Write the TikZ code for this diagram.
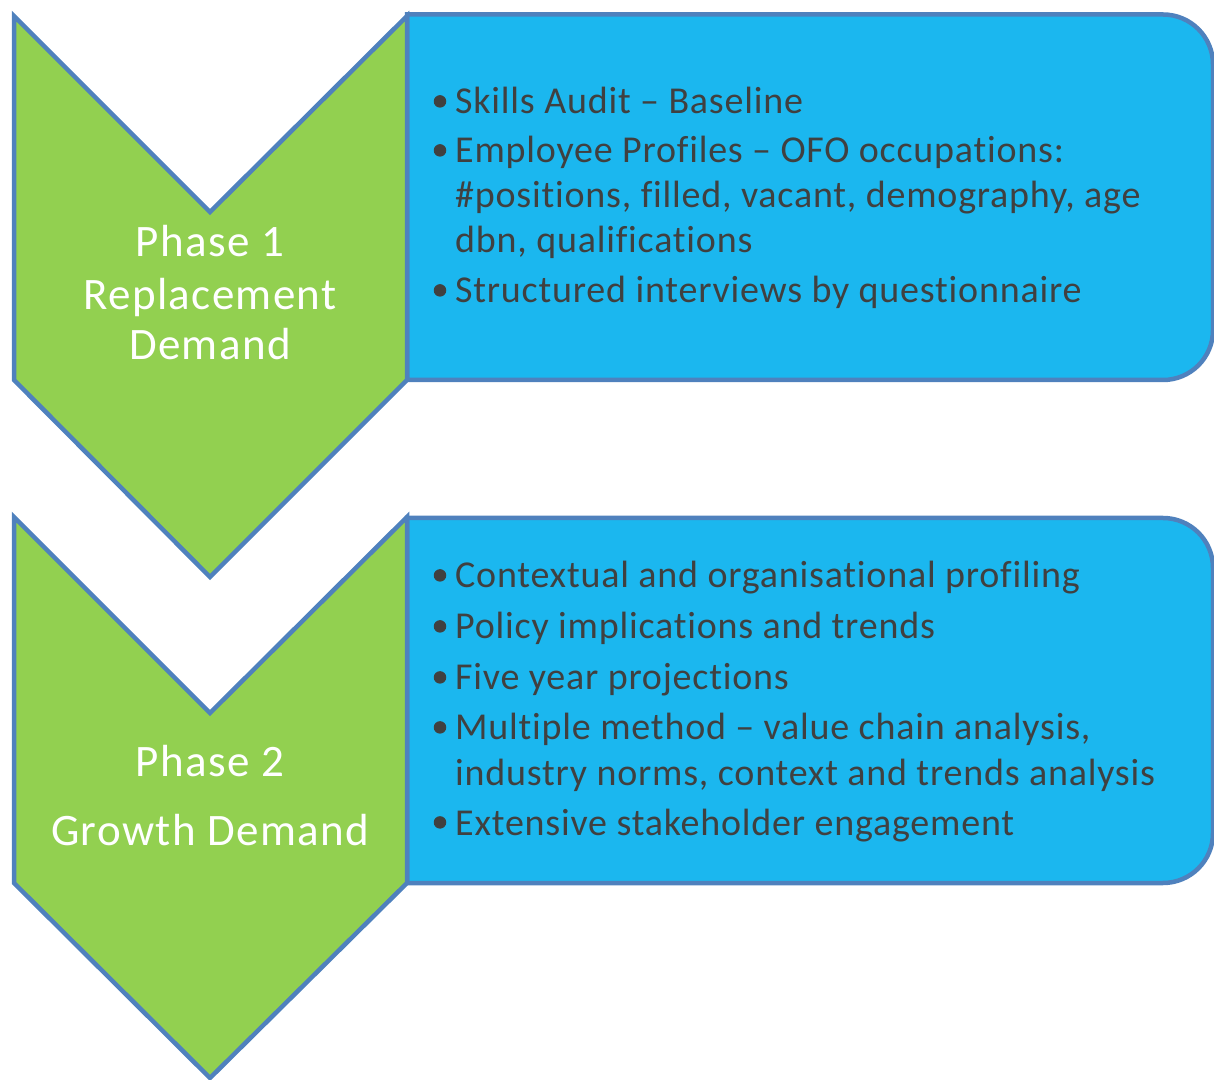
\documentclass[tikz,border=0pt]{standalone}
\usepackage{fontspec}
\setmainfont{Carlito}[Ligatures=NoCommon]
\newfontfamily\itemfont{Carlito}[LetterSpace=2.1,Ligatures=NoCommon]
\newfontfamily\phasefont{Carlito}[LetterSpace=3.0,Ligatures=NoCommon]
\definecolor{chevgreen}{HTML}{92D050}
\definecolor{boxblue}{HTML}{1BB7EF}
\definecolor{edgeblue}{HTML}{4F81BD}
\definecolor{txtgray}{HTML}{404040}
\begin{document}
\begin{tikzpicture}[x=1pt,y=1pt,
  shapeline/.style={draw=edgeblue,line width=4.5pt,line join=miter},
  chevron/.style={shapeline,fill=chevgreen},
  bluebox/.style={shapeline,fill=boxblue},
  item/.style={anchor=base west,inner sep=0pt,text=txtgray,font=\itemfont\fontsize{38}{45}\selectfont},
  dot/.style={circle,fill=txtgray,inner sep=0pt,minimum size=12.5pt},
  phasetext/.style={anchor=base,inner sep=0pt,text=white,font=\phasefont\fontsize{45}{52}\selectfont}]
\useasboundingbox (0,0) rectangle (1214,1079);
% boxes
\draw[bluebox] (407,1064.5) -- (1163,1064.5) arc[start angle=90,end angle=0,radius=50] -- (1213,749) arc[start angle=0,end angle=-90,radius=50] -- (407,699) -- cycle;
\draw[bluebox] (407,561) -- (1163,561) arc[start angle=90,end angle=0,radius=50] -- (1213,246) arc[start angle=0,end angle=-90,radius=50] -- (407,196) -- cycle;
% chevrons
\draw[chevron] (14,1063) -- (210,867) -- (407,1063) -- (407,699) -- (210,502) -- (14,699) -- cycle;
\draw[chevron] (14,562) -- (210,366) -- (407,562) -- (407,196) -- (210,1) -- (14,196) -- cycle;
% phase texts
\node[phasetext] (p1a) at (210,822.3) {Phase 1};
\node[phasetext] (p1b) at (210,769.7) {Replacement};
\node[phasetext] (p1c) at (210,719) {Demand};
\node[phasetext] (p2a) at (210,302.3) {Phase 2};
\node[phasetext] (p2b) at (210,234) {Growth Demand};
% phase 1 bullets
\node[dot] (d11) at (440,977.6) {};
\node[item] (t11) at (455,965) {Skills Audit – Baseline};
\node[dot] (d12) at (440,928.6) {};
\node[item] (t12a) at (455,916) {Employee Profiles – OFO occupations:};
\node[item] (t12b) at (455,871) {\#positions, filled, vacant, demography, age};
\node[item] (t12c) at (455,826) {dbn, qualifications};
\node[dot] (d13) at (440,788.6) {};
\node[item] (t13) at (455,776) {Structured interviews by questionnaire};
% phase 2 bullets
\node[dot] (d21) at (440,503.6) {};
\node[item] (t21) at (455,491) {Contextual and organisational profiling};
\node[dot] (d22) at (440,452.6) {};
\node[item] (t22) at (455,440) {Policy implications and trends};
\node[dot] (d23) at (440,401.6) {};
\node[item] (t23) at (455,389) {Five year projections};
\node[dot] (d24) at (440,351.6) {};
\node[item] (t24a) at (455,339) {Multiple method – value chain analysis,};
\node[item] (t24b) at (455,294) {industry norms, context and trends analysis};
\node[dot] (d25) at (440,256.6) {};
\node[item] (t25) at (455,244) {Extensive stakeholder engagement};
\end{tikzpicture}
\end{document}
